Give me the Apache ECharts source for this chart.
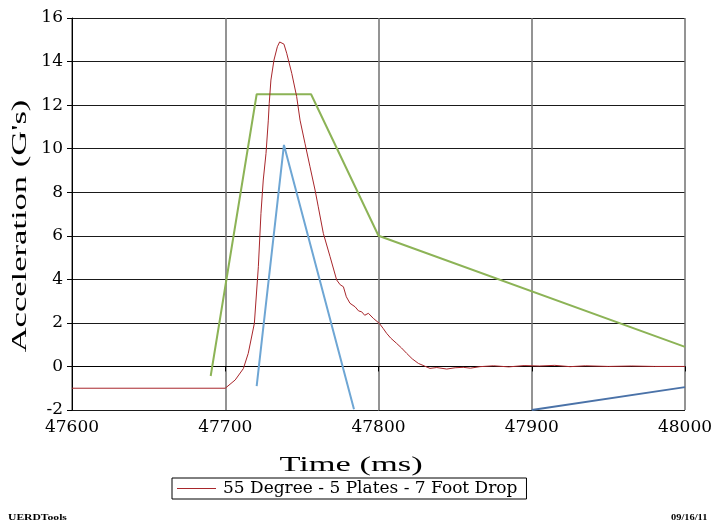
<!DOCTYPE html>
<html><head><meta charset="utf-8">
<script src="https://cdn.jsdelivr.net/npm/echarts@6/dist/echarts.min.js"></script>
<style>html,body{margin:0;padding:0;background:#fff}#c{width:717px;height:525px}</style>
</head><body><div id="c"></div>
<script>
const xTicks = [47600, 47700, 47800, 47900, 48000];
const yTicks = [-2, 0, 2, 4, 6, 8, 10, 12, 14, 16];
const xTitle = 'Time (ms)';
const yTitle = "Acceleration (G's)";
const redName = '55 Degree - 5 Plates - 7 Foot Drop';
const redT = [47600, 47700, 47701, 47706.5, 47711.8, 47715, 47719, 47721.6, 47723.3, 47724.8, 47726.6, 47728.1, 47728.7, 47729.8, 47731.8, 47734, 47735.5, 47736.8, 47738.3, 47740.1, 47743.4, 47746.6, 47748.8, 47752, 47755.3, 47758.6, 47760.7, 47764, 47768.4, 47772.7, 47775, 47777.1, 47779, 47781.4, 47784.7, 47787, 47789, 47791, 47793.4, 47796.6, 47800.5, 47803, 47805.3, 47808, 47811.8, 47815, 47818.4, 47822, 47826, 47830, 47833.6, 47838, 47844.5, 47850, 47855.3, 47860, 47866.2, 47875, 47885, 47895, 47905, 47915, 47925, 47935, 47950, 47965, 47980, 48000];
const redV = [-1, -1, -0.93, -0.62, -0.1, 0.6, 1.98, 4.58, 7.03, 8.56, 9.78, 11.31, 12.08, 13.15, 14.07, 14.68, 14.9, 14.99, 14.8, 14.38, 13.46, 12.39, 11.31, 10.25, 9.17, 8.1, 7.33, 6.11, 5.04, 3.97, 3.75, 3.66, 3.2, 2.9, 2.74, 2.55, 2.51, 2.35, 2.44, 2.21, 1.98, 1.75, 1.52, 1.3, 1.06, 0.85, 0.6, 0.35, 0.14, 0.02, -0.09, -0.05, -0.12, -0.06, -0.04, -0.08, -0.01, 0.03, -0.02, 0.04, 0.02, 0.05, -0.01, 0.03, 0, 0.02, 0, 0];
const greenT = [47690.5, 47720.5, 47756, 47800, 48000];
const greenV = [-0.44, 12.5, 12.5, 6, 0.9];
const aquaT = [47720.5, 47738.3, 47784];
const aquaV = [-0.9, 10.17, -1.97];
const blueT = [47900, 48000];
const blueV = [-2, -0.95];

const zip = (a, b) => a.map((t, i) => [t, b[i]]);
const tnr = '"Liberation Serif", serif';
const dj = '"DejaVu Serif", serif';
const chart = echarts.init(document.getElementById('c'), null, {renderer: 'canvas'});
chart.setOption({
  animation: false,
  backgroundColor: '#fff',
  grid: {left: 72, right: 32, top: 18, bottom: 115},
  xAxis: {
    type: 'value', min: xTicks[0], max: xTicks[xTicks.length - 1], interval: 100,
    axisLine: {lineStyle: {color: '#000', width: 1}},
    axisTick: {show: true, length: 5, lineStyle: {color: '#000'}},
    axisLabel: {fontFamily: dj, fontSize: 17, color: '#000', margin: 9, formatter: v => String(v)},
    splitLine: {show: true, lineStyle: {color: '#707070', width: 1.5}}
  },
  yAxis: {
    type: 'value', min: yTicks[0], max: yTicks[yTicks.length - 1], interval: 2,
    axisLine: {show: true, lineStyle: {color: '#000', width: 1}},
    axisTick: {show: true, length: 5, lineStyle: {color: '#000'}},
    axisLabel: {fontFamily: dj, fontSize: 17, color: '#000', margin: 9},
    splitLine: {show: true, lineStyle: {color: '#1a1a1a', width: 1}}
  },
  legend: {
    data: [redName], left: 172, top: 478,
    borderColor: '#000', borderWidth: 1, padding: [2, 9, 2, 5],
    icon: 'rect', itemWidth: 39, itemHeight: 1.2, itemGap: 4,
    textStyle: {fontFamily: dj, fontSize: 17, color: '#000', padding: [0, 0, 0, 2]}
  },
  graphic: [
    {type: 'text', x: 351, y: 465, scaleX: 1.64, style: {text: xTitle, font: '21px ' + tnr, fill: '#000', textAlign: 'center', textVerticalAlign: 'middle'}},
    {type: 'text', x: 20, y: 226, rotation: Math.PI / 2, scaleX: 1.57, style: {text: yTitle, font: '22px ' + tnr, fill: '#000', textAlign: 'center', textVerticalAlign: 'middle'}},
    {type: 'text', x: 8, y: 518, scaleX: 1.45, style: {text: 'UERDTools', font: 'bold 8px ' + tnr, fill: '#000', textVerticalAlign: 'middle'}},
    {type: 'text', x: 671, y: 518, scaleX: 1.3, style: {text: '09/16/11', font: 'bold 8px ' + tnr, fill: '#000', textVerticalAlign: 'middle'}}
  ],
  series: [
    {name: 'green', type: 'line', data: zip(greenT, greenV), symbol: 'none', lineStyle: {color: '#8cb356', width: 2}, z: 3},
    {name: 'aqua', type: 'line', data: zip(aquaT, aquaV), symbol: 'none', lineStyle: {color: '#6ea6d4', width: 2}, z: 3},
    {name: 'blue', type: 'line', data: zip(blueT, blueV), symbol: 'none', lineStyle: {color: '#4a72a8', width: 2}, z: 3},
    {name: redName, type: 'line', data: zip(redT, redV), symbol: 'none', itemStyle: {color: '#a8262b'}, lineStyle: {color: '#a8262b', width: 1}, z: 4}
  ]
});
</script></body></html>
